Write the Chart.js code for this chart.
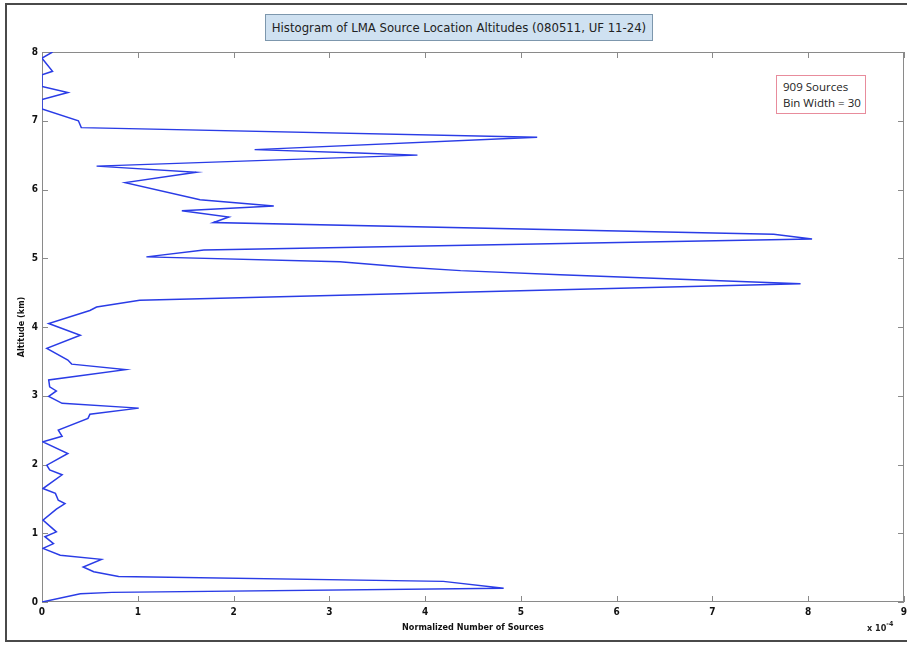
<!DOCTYPE html>
<html>
<head>
<meta charset="utf-8">
<script src="https://cdn.jsdelivr.net/npm/chart.js@4.4.1/dist/chart.umd.min.js"></script>
<style>
  html, body { margin: 0; padding: 0; background: #ffffff; }
  #wrap { position: relative; width: 907px; height: 647px; overflow: hidden; background: #fff; }
  #c { position: absolute; left: 0; top: 0; }
  #frame { position: absolute; left: 5px; top: 3px; width: 920px; height: 635px; border: 2px solid #4a4a4a; box-sizing: content-box; pointer-events: none; }
  #title { position: absolute; left: 265px; top: 14px; width: 386px; height: 25px; background: #cfe1f1; border: 1px solid #7d97ad;
           font-family: 'Liberation Sans Narrow', 'DejaVu Sans Condensed', 'Liberation Sans', sans-serif; font-size: 13px; color: #222;
           line-height: 25px; text-align: center; }
  #note { position: absolute; left: 776px; top: 75px; width: 90px; height: 39px; border: 1px solid #e88c9c; background: #fff;
          font-family: 'Open Sans', sans-serif; font-size: 11.5px; color: #222; line-height: 16px; padding: 3px 0 0 6px; box-sizing: border-box; }
  #expo { position: absolute; left: 867px; top: 621px; font-family: 'Liberation Sans Narrow', 'DejaVu Sans Condensed', sans-serif; font-weight: bold; font-size: 9px; color: #222; }
  #expo sup { font-size: 7px; position: relative; top: -1px; }
</style>
</head>
<body>
<div id="wrap">
  <canvas id="c" width="907" height="647"></canvas>
  <div id="frame"></div>
  <div id="title">Histogram of LMA Source Location Altitudes (080511, UF 11-24)</div>
  <div id="note">909 Sources<br>Bin Width = 30</div>
  <div id="expo">x 10<sup>-4</sup></div>
</div>
<script>
// Altitude (km) of each vertex of the histogram outline
const altitudes = [
  0.00, 0.12, 0.14, 0.20, 0.30, 0.37, 0.44, 0.51, 0.62, 0.68,
  0.78, 0.85, 0.95, 1.02, 1.19, 1.35, 1.43, 1.48, 1.58, 1.65,
  1.85, 1.92, 1.99, 2.16, 2.33, 2.41, 2.50, 2.67, 2.73, 2.82,
  2.89, 2.99, 3.07, 3.13, 3.23, 3.38, 3.46, 3.52, 3.69, 3.88,
  4.05, 4.24, 4.29, 4.39, 4.63, 4.76, 4.82, 4.87, 4.95, 5.02,
  5.12, 5.28, 5.35, 5.52, 5.60, 5.69, 5.76, 5.85, 6.10, 6.25,
  6.34, 6.50, 6.53, 6.58, 6.76, 6.90, 7.00, 7.17, 7.31, 7.41,
  7.50, 7.67, 7.72, 7.91, 8.00
];
// Normalized number of sources (x 10^-4) at each altitude
const normalizedSources = [
  0.00, 0.40, 0.73, 4.82, 4.19, 0.80, 0.54, 0.43, 0.62, 0.19,
  0.01, 0.12, 0.03, 0.15, 0.01, 0.15, 0.24, 0.17, 0.14, 0.01,
  0.21, 0.08, 0.05, 0.27, 0.01, 0.21, 0.17, 0.48, 0.50, 1.01,
  0.21, 0.07, 0.15, 0.08, 0.07, 0.87, 0.31, 0.27, 0.05, 0.40,
  0.07, 0.50, 0.57, 1.02, 7.92, 5.41, 4.37, 3.81, 3.11, 1.09,
  1.69, 8.04, 7.64, 1.79, 1.95, 1.46, 2.42, 1.65, 0.87, 1.61,
  0.57, 3.92, 3.30, 2.22, 5.17, 0.41, 0.38, 0.00, 0.00, 0.27,
  0.00, 0.00, 0.11, 0.00, 0.11
];
const xTicks = [0, 1, 2, 3, 4, 5, 6, 7, 8, 9];
const yTicks = [0, 1, 2, 3, 4, 5, 6, 7, 8];

const points = altitudes.map((a, i) => ({ x: normalizedSources[i], y: a }));

const tickFont = { family: "'Liberation Sans Narrow', 'DejaVu Sans Condensed', sans-serif", size: 10, weight: 'bold' };
const titleFont = { family: "'Liberation Sans Narrow', 'DejaVu Sans Condensed', sans-serif", size: 9, weight: 'bold' };

const boxPlugin = {
  id: 'matlabBox',
  beforeDatasetsDraw(chart) {
    const { ctx, chartArea: a, scales } = chart;
    ctx.save();
    ctx.strokeStyle = '#8a8a8a';
    ctx.lineWidth = 1;
    ctx.strokeRect(Math.round(a.left) + 0.5, Math.round(a.top) + 0.5, Math.round(a.right - a.left) - 1, Math.round(a.bottom - a.top) - 1);
    ctx.beginPath();
    scales.x.ticks.forEach(t => {
      const px = Math.round(scales.x.getPixelForValue(t.value)) + 0.5;
      ctx.moveTo(px, a.bottom); ctx.lineTo(px, a.bottom - 6);
      ctx.moveTo(px, a.top); ctx.lineTo(px, a.top + 6);
    });
    scales.y.ticks.forEach(t => {
      const py = Math.round(scales.y.getPixelForValue(t.value)) + 0.5;
      ctx.moveTo(a.left, py); ctx.lineTo(a.left + 6, py);
      ctx.moveTo(a.right, py); ctx.lineTo(a.right - 6, py);
    });
    ctx.stroke();
    ctx.restore();
  }
};

new Chart(document.getElementById('c'), {
  type: 'scatter',
  data: {
    datasets: [{
      data: points,
      showLine: true,
      borderColor: '#2a3ce6',
      borderWidth: 1.5,
      pointRadius: 0,
      tension: 0,
      fill: false
    }]
  },
  options: {
    responsive: false,
    animation: false,
    devicePixelRatio: 1,
    layout: { padding: { top: 52, right: 3, left: 0, bottom: 0 } },
    plugins: { legend: { display: false }, tooltip: { enabled: false } },
    scales: {
      x: {
        type: 'linear', min: 0, max: 9,
        afterBuildTicks: s => { s.ticks = xTicks.map(v => ({ value: v })); },
        afterFit: s => { s.height = 45; s.paddingRight = 0; },
        ticks: { color: '#111', font: tickFont, padding: 4, maxRotation: 0, callback: v => String(v) },
        grid: { display: false, drawTicks: false },
        border: { display: false },
        title: { display: true, text: 'Normalized Number of Sources', color: '#111', font: titleFont, padding: { top: 0, bottom: 14 } }
      },
      y: {
        type: 'linear', min: 0, max: 8,
        afterBuildTicks: s => { s.ticks = yTicks.map(v => ({ value: v })); },
        afterFit: s => { s.width = 42; },
        ticks: { color: '#111', font: tickFont, padding: 4, callback: v => String(v) },
        grid: { display: false, drawTicks: false },
        border: { display: false },
        title: { display: true, text: 'Altitude (km)', color: '#111', font: titleFont, padding: { top: 16, bottom: 0 } }
      }
    }
  },
  plugins: [boxPlugin]
});
</script>
</body>
</html>
